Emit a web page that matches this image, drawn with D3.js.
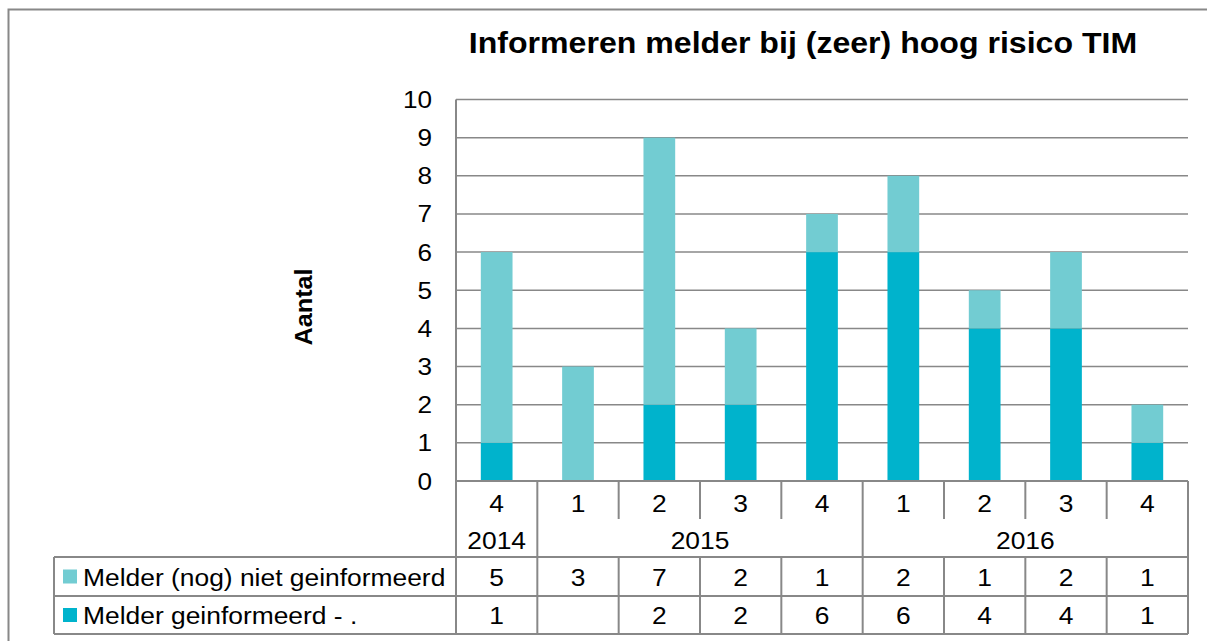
<!DOCTYPE html>
<html>
<head>
<meta charset="utf-8">
<script src="https://cdn.jsdelivr.net/npm/d3@7"></script>
<style>
  body { margin: 0; background: #fff; }
  svg { display: block; font-family: "Liberation Sans", Arial, sans-serif; }
</style>
</head>
<body>
<svg id="chart" width="1207" height="641"></svg>
<script>
const title = "Informeren melder bij (zeer) hoog risico TIM";
const yLabel = "Aantal";
const quarters = ["4", "1", "2", "3", "4", "1", "2", "3", "4"];
const years = [
  { year: "2014", count: 1 },
  { year: "2015", count: 4 },
  { year: "2016", count: 4 }
];
const seriesNames = ["Melder (nog) niet geinformeerd", "Melder geinformeerd - ."];
const nietGeinformeerd = [5, 3, 7, 2, 1, 2, 1, 2, 1];
const geinformeerd = [1, null, 2, 2, 6, 6, 4, 4, 1];
const yTicks = [0, 1, 2, 3, 4, 5, 6, 7, 8, 9, 10];

const colLight = "#72CCD2";
const colDark = "#00B3CC";
const lineCol = "#888888";

const svg = d3.select("#chart");

// plot area
const plotL = 456, plotR = 1188, plotT = 99.5, plotB = 481;
const tableLeft = 54;
const qDivEnd = 519, row1 = [557, 596], row2 = [596, 634];

const idx = quarters.map((q, i) => i);
const x = d3.scaleBand().domain(idx).range([plotL, plotR]).padding(0);
const y = d3.scaleLinear().domain([0, 10]).range([plotB, plotT]);
const barW = x.bandwidth() * 0.39;

// text helper: glyphs in the original are a bit wider than Liberation Sans
function label(g, tx, ty, str, size, opts = {}) {
  const sx = opts.sx || 1.1;
  const rot = opts.rotate ? ` rotate(${opts.rotate})` : "";
  return g.append("text")
    .attr("transform", `translate(${tx},${ty})${rot} scale(${sx},1)`)
    .attr("text-anchor", opts.anchor || "middle")
    .attr("font-size", size)
    .attr("font-weight", opts.bold ? "bold" : null)
    .attr("fill", "#000")
    .text(str);
}

// outer frame
svg.append("path")
  .attr("d", "M8.5,641 V9.5 H1207")
  .attr("fill", "none")
  .attr("stroke", lineCol)
  .attr("stroke-width", 2);

// title
label(svg, 803, 53, title, 30, { bold: true, sx: 1.07 });

// gridlines
svg.append("g")
  .selectAll("line")
  .data(yTicks.filter(d => d > 0))
  .join("line")
  .attr("x1", plotL).attr("x2", plotR)
  .attr("y1", d => y(d)).attr("y2", d => y(d))
  .attr("stroke", lineCol)
  .attr("stroke-width", 1.5);

// y axis tick labels
const yAxisG = svg.append("g");
yTicks.forEach(t => label(yAxisG, 432, y(t) + 8.5, String(t), 24, { anchor: "end", sx: 1.09 }));

label(svg, 312, 307, yLabel, 23, { bold: true, rotate: -90, sx: 1.1 });

// stacked bars
const stackData = idx.map(i => ({ i, dark: geinformeerd[i] || 0, light: nietGeinformeerd[i] || 0 }));
const bars = svg.append("g");
bars.selectAll("rect.dark")
  .data(stackData.filter(d => d.dark > 0))
  .join("rect")
  .attr("class", "dark")
  .attr("x", d => x(d.i) + (x.bandwidth() - barW) / 2)
  .attr("width", barW)
  .attr("y", d => y(d.dark))
  .attr("height", d => y(0) - y(d.dark))
  .attr("fill", colDark);
bars.selectAll("rect.light")
  .data(stackData.filter(d => d.light > 0))
  .join("rect")
  .attr("class", "light")
  .attr("x", d => x(d.i) + (x.bandwidth() - barW) / 2)
  .attr("width", barW)
  .attr("y", d => y(d.dark + d.light))
  .attr("height", d => y(d.dark) - y(d.dark + d.light))
  .attr("fill", colLight);

// axis line & table lines
const lines = svg.append("g").attr("stroke", lineCol).attr("stroke-width", 2);
lines.append("line").attr("x1", plotL).attr("x2", plotL).attr("y1", plotT).attr("y2", row2[1]);
lines.append("line").attr("x1", plotL).attr("x2", plotR).attr("y1", plotB).attr("y2", plotB);
lines.append("line").attr("x1", tableLeft).attr("x2", plotR).attr("y1", row1[0]).attr("y2", row1[0]);
lines.append("line").attr("x1", tableLeft).attr("x2", plotR).attr("y1", row2[0]).attr("y2", row2[0]);
lines.append("line").attr("x1", tableLeft).attr("x2", plotR).attr("y1", row2[1]).attr("y2", row2[1]);
lines.append("line").attr("x1", tableLeft).attr("x2", tableLeft).attr("y1", row1[0]).attr("y2", row2[1]);

// year spans
let cum = 0;
const yearPos = years.map(d => {
  const start = cum;
  cum += d.count;
  return { year: d.year, x0: x(start), x1: start + d.count < quarters.length ? x(start + d.count) : plotR };
});

// category separators
idx.slice(1).forEach(i => {
  const xx = x(i);
  const isYear = yearPos.some(d => Math.abs(d.x0 - xx) < 0.5);
  lines.append("line")
    .attr("x1", xx).attr("x2", xx)
    .attr("y1", plotB).attr("y2", isYear ? row2[1] : qDivEnd);
  if (!isYear) {
    lines.append("line").attr("x1", xx).attr("x2", xx).attr("y1", row1[0]).attr("y2", row2[1]);
  }
});
lines.append("line").attr("x1", plotR).attr("x2", plotR).attr("y1", plotB).attr("y2", row2[1]);

// quarter labels
const fs = 24;
const qG = svg.append("g");
quarters.forEach((q, i) => label(qG, x(i) + x.bandwidth() / 2, 512, q, fs));

// year labels
const yrG = svg.append("g");
yearPos.forEach(d => label(yrG, (d.x0 + d.x1) / 2, 549, d.year, fs));

// data table rows
const rows = [
  { name: seriesNames[0], values: nietGeinformeerd, color: colLight, y0: row1[0], y1: row1[1] },
  { name: seriesNames[1], values: geinformeerd, color: colDark, y0: row2[0], y1: row2[1] }
];
rows.forEach(r => {
  const cy = (r.y0 + r.y1) / 2;
  svg.append("rect")
    .attr("x", 63).attr("y", cy - 7)
    .attr("width", 14).attr("height", 14)
    .attr("fill", r.color);
  label(svg, 83, cy + 9, r.name, fs, { anchor: "start" });
  const g = svg.append("g");
  r.values.forEach((v, i) => {
    if (v != null) label(g, x(i) + x.bandwidth() / 2, cy + 9, String(v), fs);
  });
});
</script>
</body>
</html>
